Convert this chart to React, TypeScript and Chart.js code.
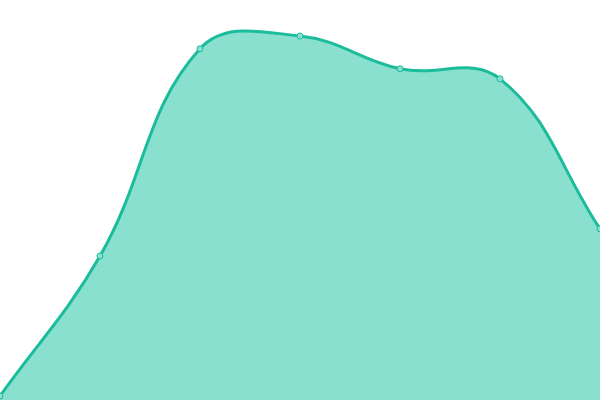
import React, { useEffect, useRef } from "react";
import { Chart, registerables } from "chart.js";

Chart.register(...registerables);

const categories = ["A", "B", "C", "D", "E", "F", "G"];
const seriesValues = [1, 36, 87.8, 91, 82.8, 80.3, 42.8];

export default function App() {
  const ref = useRef<HTMLCanvasElement | null>(null);
  useEffect(() => {
    if (!ref.current) return;
    const chart = new Chart(ref.current, {
      type: "line",
      data: {
        labels: categories,
        datasets: [
          {
            data: seriesValues,
            borderColor: "#1abc9c",
            backgroundColor: "#8ae0cf",
            borderWidth: 3,
            fill: true,
            tension: 0.4,
            pointRadius: 3,
            pointBorderWidth: 1,
            pointBorderColor: "#1abc9c",
            pointBackgroundColor: "#8ae0cf",
          },
        ],
      },
      options: {
        animation: false,
        responsive: true,
        maintainAspectRatio: false,
        layout: { padding: 0, autoPadding: false },
        plugins: { legend: { display: false }, tooltip: { enabled: false } },
        scales: {
          x: { display: false, offset: false },
          y: { display: false, min: 0, max: 100 },
        },
      },
    });
    return () => chart.destroy();
  }, []);
  return (
    <div style={{ position: "fixed", left: 0, top: 0, width: 600, height: 400 }}>
      <canvas ref={ref} />
    </div>
  );
}
